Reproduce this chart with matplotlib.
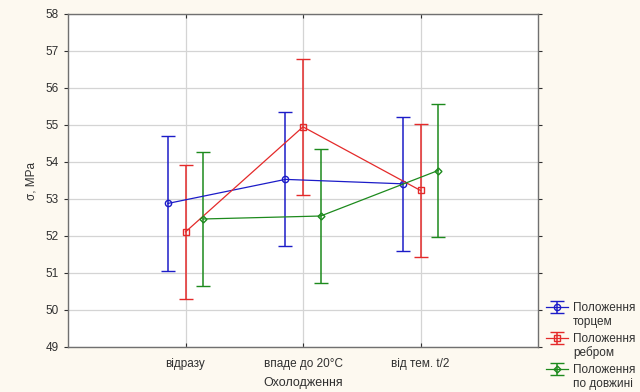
import matplotlib
matplotlib.use("Agg")
import matplotlib.pyplot as plt
import numpy as np

plt.rcParams['font.family'] = ['Liberation Sans', 'DejaVu Sans']

categories = ["відразу", "впаде до 20°C", "від тем. t/2"]
series_first = ["Положення", "Положення", "Положення"]
series_second = ["торцем", "ребром", "по довжині"]
torcem = [52.88, 53.53, 53.41]
torcem_err = [1.82, 1.81, 1.81]
rebrom = [52.11, 54.95, 53.23]
rebrom_err = [1.82, 1.83, 1.80]
dovzh = [52.46, 52.54, 53.77]
dovzh_err = [1.81, 1.81, 1.81]

colors = ["#1c1cc8", "#e42a2a", "#1d8a1d"]
markers = ["o", "s", "D"]
msizes = [4.5, 4.5, 3.5]
offsets = [-0.15, 0.0, 0.15]

fig = plt.figure(figsize=(6.4, 3.92), dpi=100, facecolor="#fdf9f0")
ax = fig.add_axes([68 / 640, 1 - 347 / 392, (538 - 68) / 640, (347 - 14) / 392])
ax.set_facecolor("white")

x = np.arange(1, len(categories) + 1)
handles = []
for vals, errs, col, mk, ms, off in zip(
        [torcem, rebrom, dovzh], [torcem_err, rebrom_err, dovzh_err],
        colors, markers, msizes, offsets):
    h = ax.errorbar(x + off, vals, yerr=errs, color=col, ecolor=col,
                    marker=mk, markersize=ms, markerfacecolor="none",
                    markeredgecolor=col, markeredgewidth=1.0,
                    linewidth=0.9, elinewidth=1.1, capsize=5, capthick=1.0)
    handles.append(h)

ax.set_xlim(0, 4)
ax.set_ylim(49, 58)
ax.set_xticks(x)
ax.set_xticklabels(categories)
ax.set_yticks(np.arange(49, 59, 1))
ax.grid(True, color="#d4d4d4", linewidth=0.9)
ax.set_axisbelow(True)
for sp in ax.spines.values():
    sp.set_color("#707070")
    sp.set_linewidth(1.0)
ax.tick_params(axis="both", labelsize=8.5, colors="#303030", length=3,
               width=0.8, labelcolor="#303030")
ax.tick_params(axis="x", direction="in", top=True, pad=8)
ax.tick_params(axis="y", right=True, direction="out")
ax.set_xlabel("Охолодження", fontsize=9, color="#303030", labelpad=5)
ax.set_ylabel("σ, MPa", fontsize=8.5, color="#303030", labelpad=6)

# Legend: first line next to the symbol, second line underneath
leg = fig.legend(handles=handles, labels=series_first, loc="upper left",
                 bbox_to_anchor=(546 / 640, 1 - 302 / 392), frameon=False,
                 fontsize=8.5, handlelength=1.9, handletextpad=0.4,
                 labelspacing=1.6, borderpad=0.0, borderaxespad=0.0)
fig.canvas.draw()
for txt, second in zip(leg.get_texts(), series_second):
    bb = txt.get_window_extent()
    fig.text(bb.x0 / 640, (bb.y0 - 14) / 392, second, fontsize=8.5,
             color="#303030", ha="left", va="bottom")
for txt in leg.get_texts():
    txt.set_color("#303030")

fig.savefig("out.png", dpi=100, facecolor=fig.get_facecolor())
